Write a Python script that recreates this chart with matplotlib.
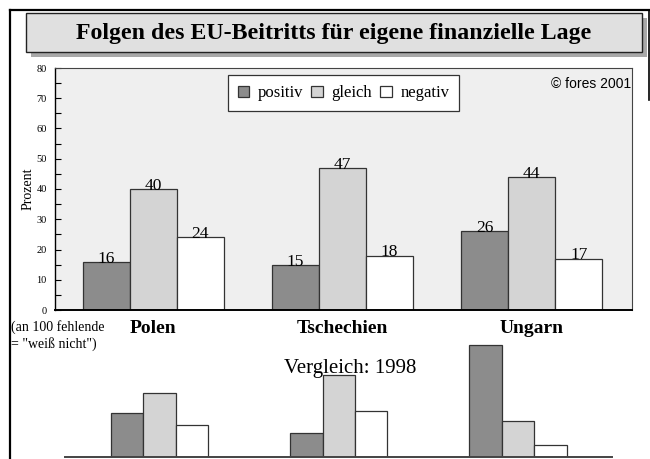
import matplotlib
matplotlib.use('Agg')
import matplotlib.pyplot as plt
from matplotlib.patches import Rectangle
from matplotlib.lines import Line2D
import numpy as np

# === Data ===
countries = ["Polen", "Tschechien", "Ungarn"]
series = ["positiv", "gleich", "negativ"]
positiv_2001 = [16, 15, 26]
gleich_2001 = [40, 47, 44]
negativ_2001 = [24, 18, 17]
positiv_1998 = [22, 12, 56]
gleich_1998 = [32, 41, 18]
negativ_1998 = [16, 23, 6]
yticks = list(range(0, 90, 10))

bar_colors = ['#8c8c8c', '#d4d4d4', '#ffffff']
SERIF = 'Liberation Serif'
W, H = 650, 459

fig = plt.figure(figsize=(6.5, 4.59), dpi=100)
fig.patch.set_facecolor('white')

def fx(px):
    return px / W

def fy(py):
    return 1 - py / H

# === Outer frame ===
fig.add_artist(Line2D([fx(10), fx(10)], [fy(10), 0], color='black', lw=1.6, transform=fig.transFigure))
fig.add_artist(Line2D([fx(10), 1], [fy(10), fy(10)], color='black', lw=1.6, transform=fig.transFigure))
fig.add_artist(Line2D([fx(648.5), fx(648.5)], [fy(10), fy(100)], color='black', lw=1.2, transform=fig.transFigure))

# === Title box with shadow ===
fig.add_artist(Rectangle((fx(31), fy(57)), fx(616), (52 - 13) / H, facecolor='#a8a8a8',
                         edgecolor='none', transform=fig.transFigure, zorder=1))
fig.add_artist(Rectangle((fx(26), fy(52)), fx(616), (52 - 13) / H, facecolor='#e0e0e0',
                         edgecolor='#222222', lw=1.0, transform=fig.transFigure, zorder=2))
fig.text(fx(334), fy(33), "Folgen des EU-Beitritts für eigene finanzielle Lage",
         family=SERIF, weight='bold', fontsize=17.2, ha='center', va='center', zorder=3)

# === Main chart (2001) ===
ax = fig.add_axes([fx(55), fy(310), fx(632 - 55), (310 - 68) / H])
ax.set_facecolor('#efefef')
x = np.arange(len(countries))
bw = 0.248
values = [positiv_2001, gleich_2001, negativ_2001]
for i, (vals, col, name) in enumerate(zip(values, bar_colors, series)):
    xs = x + (i - 1) * bw
    ax.bar(xs, vals, width=bw, color=col, edgecolor='#333333', linewidth=0.9, label=name, zorder=2)
    for xi, v in zip(xs, vals):
        ax.text(xi, v - 0.3, str(v), family=SERIF, fontsize=12.5, ha='center', va='baseline', zorder=3)

ax.set_xlim(-0.52, 2.53)
ax.set_ylim(0, 80)
ax.set_yticks(yticks)
ax.set_yticklabels([str(t) for t in yticks], family=SERIF, fontsize=7.5)
ax.set_yticks(range(5, 80, 10), minor=True)
ax.tick_params(axis='y', which='both', direction='in', length=4, width=0.8, pad=6)
ax.set_xticks([])
ax.set_ylabel("Prozent", family=SERIF, fontsize=10, labelpad=1)
for side in ['top', 'right']:
    ax.spines[side].set_color('#444444')
    ax.spines[side].set_linewidth(0.8)
ax.spines['left'].set_linewidth(1.0)
ax.spines['bottom'].set_linewidth(1.4)

leg = ax.legend(loc='upper center', bbox_to_anchor=(0.5, 0.97), ncol=3, frameon=True,
                fancybox=False, edgecolor='#333333', framealpha=1,
                prop={'family': SERIF, 'size': 12}, handlelength=0.7, handleheight=0.7,
                handletextpad=0.5, columnspacing=0.5, borderpad=0.6, borderaxespad=0)
leg.get_frame().set_linewidth(0.9)

ax.text(0.998, 0.932, "© fores 2001", transform=ax.transAxes, family='Liberation Sans',
        fontsize=10, ha='right', va='center')

for xi, name in zip(x, countries):
    ax.text(xi, -6.2, name, family=SERIF, weight='bold', fontsize=14, ha='center', va='center')

fig.text(fx(11), fy(320), '(an 100 fehlende\n= "weiß nicht")', family=SERIF, fontsize=10,
         ha='left', va='top', linespacing=1.25)
fig.text(fx(350), fy(369), "Vergleich: 1998", family=SERIF, fontsize=15, ha='center', va='center')

# === Comparison chart (1998) ===
ax2 = fig.add_axes([fx(65), fy(457), fx(612 - 65), (457 - 337) / H])
ax2.set_facecolor('none')
bw2 = 0.181
values98 = [positiv_1998, gleich_1998, negativ_1998]
for i, (vals, col) in enumerate(zip(values98, bar_colors)):
    ax2.bar(x + (i - 1) * bw2, vals, width=bw2, color=col, edgecolor='#333333', linewidth=0.9)
ax2.set_xlim(-0.526, 2.523)
ax2.set_ylim(0, 60)
ax2.set_xticks([])
ax2.set_yticks([])
for side in ['top', 'right', 'left']:
    ax2.spines[side].set_visible(False)
ax2.spines['bottom'].set_color('#444444')
ax2.spines['bottom'].set_linewidth(1.4)

plt.savefig('out.png', dpi=100)
plt.close()
